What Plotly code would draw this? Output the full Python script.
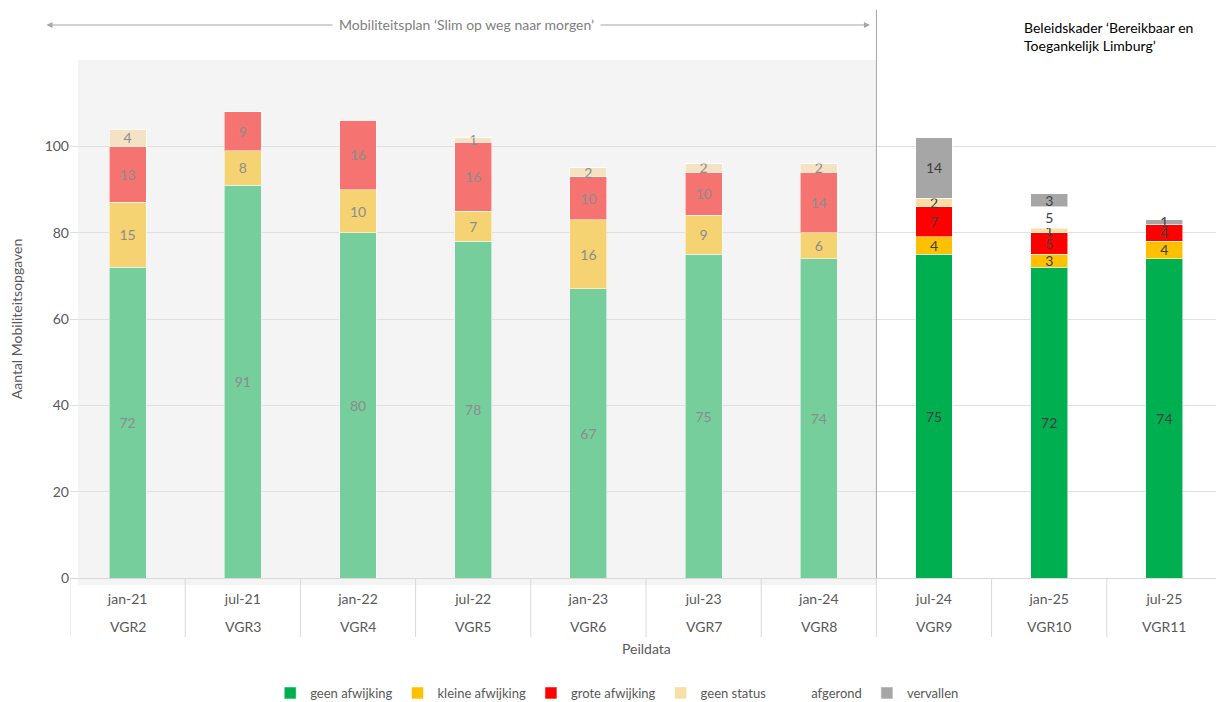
import plotly.graph_objects as go

peildata = ['jan-21', 'jul-21', 'jan-22', 'jul-22', 'jan-23', 'jul-23', 'jan-24', 'jul-24', 'jan-25', 'jul-25']
vgr = ['VGR2', 'VGR3', 'VGR4', 'VGR5', 'VGR6', 'VGR7', 'VGR8', 'VGR9', 'VGR10', 'VGR11']

geen_afwijking = [72, 91, 80, 78, 67, 75, 74, 75, 72, 74]
kleine_afwijking = [15, 8, 10, 7, 16, 9, 6, 4, 3, 4]
grote_afwijking = [13, 9, 16, 16, 10, 10, 14, 7, 5, 4]
geen_status = [4, 0, 0, 1, 2, 2, 2, 2, 1, 0]
afgerond = [0, 0, 0, 0, 0, 0, 0, 0, 5, 0]
vervallen = [0, 0, 0, 0, 0, 0, 0, 14, 3, 1]

n_old = 7  # first 7 peildata belong to the old mobility plan

series = [
    ('geen afwijking', geen_afwijking, '#76CE9C', '#00B050'),
    ('kleine afwijking', kleine_afwijking, '#F5D372', '#FFC000'),
    ('grote afwijking', grote_afwijking, '#F57472', '#FF0000'),
    ('geen status', geen_status, '#F3E3C4', '#F9DFA6'),
    ('afgerond', afgerond, '#FFFFFF', '#FFFFFF'),
    ('vervallen', vervallen, '#A6A6A6', '#A6A6A6'),
]

FONT = 'Lato'
H_PLOT = 518.0  # plot height in px (for converting pixel offsets to paper units)
fig = go.Figure()

for name, vals, col_old, col_new in series:
    line_col = 'rgba(0,0,0,0)' if name == 'afgerond' else 'rgba(255,255,255,0.55)'
    fig.add_trace(go.Bar(
        name=name, legendgroup=name, showlegend=False,
        x=vgr[:n_old], y=vals[:n_old],
        text=[str(v) if v else '' for v in vals[:n_old]],
        textposition='inside', insidetextanchor='middle', textangle=0,
        textfont=dict(family=FONT, size=14, color='#8C8C8C'),
        marker=dict(color=col_old, line=dict(color=line_col, width=1)),
        hoverinfo='skip',
    ))
    fig.add_trace(go.Bar(
        name=name, legendgroup=name, showlegend=True,
        x=vgr[n_old:], y=vals[n_old:],
        text=[str(v) if v else '' for v in vals[n_old:]],
        textposition='inside', insidetextanchor='middle', textangle=0,
        textfont=dict(family=FONT, size=14, color='#404040'),
        marker=dict(color=col_new, line=dict(color=line_col, width=1)),
        hoverinfo='skip',
    ))

# the page body adds an 8px offset; compensate with a slightly smaller figure
fig.update_layout(
    width=1216, height=694,
    margin=dict(l=62, r=2, t=52, b=124, autoexpand=False),
    barmode='stack', bargap=0.68,
    paper_bgcolor='white', plot_bgcolor='rgba(0,0,0,0)',
    font=dict(family=FONT, size=13, color='#595959'),
    uniformtext=dict(minsize=14, mode='show'),
    showlegend=True,
    legend=dict(orientation='h', x=0.475, xanchor='center', y=-115 / H_PLOT, yanchor='middle',
                traceorder='normal', font=dict(family=FONT, size=13, color='#595959'),
                itemwidth=30),
    xaxis=dict(type='category', range=[-0.5, len(vgr) - 0.5], automargin=False,
               tickvals=vgr, ticktext=peildata, ticklabelstandoff=8,
               showline=True, linecolor='#D9D9D9', linewidth=1,
               tickfont=dict(family=FONT, size=14, color='#595959'), showgrid=False,
               ticks=''),
    yaxis=dict(range=[0, 120], tickvals=[0, 20, 40, 60, 80, 100], showgrid=True, automargin=False,
               gridcolor='#E0E0E0', gridwidth=1, zeroline=False, showline=False,
               tickfont=dict(family=FONT, size=14, color='#595959'),
               title=dict(text='Aantal Mobiliteitsopgaven', standoff=20,
                          font=dict(family=FONT, size=14, color='#595959'))),
)

# second row of the category table (VGR numbers)
for name in vgr:
    fig.add_annotation(xref='x', yref='paper', x=name, y=-48 / H_PLOT, text=name, showarrow=False,
                       xanchor='center', yanchor='middle',
                       font=dict(family=FONT, size=14, color='#595959'))
# table dividers at category boundaries
for i in range(len(vgr) + 1):
    fig.add_shape(type='line', xref='x', yref='paper', x0=i - 0.5, x1=i - 0.5,
                  y0=-59 / H_PLOT, y1=0, line=dict(color='#D9D9D9', width=1))

# grey background for the old mobility plan period
fig.add_shape(type='rect', xref='paper', yref='paper', x0=0.007, x1=n_old / len(vgr),
              y0=-7 / H_PLOT, y1=1.0, fillcolor='#F4F4F4', line=dict(width=0), layer='below')
# separator line between policy frameworks
fig.add_shape(type='line', xref='paper', yref='paper', x0=n_old / len(vgr), x1=n_old / len(vgr),
              y0=0, y1=1.097, line=dict(color='#A6A6A6', width=1), layer='above')

# double-headed arrow for the old plan
fig.add_annotation(xref='paper', yref='paper', x=0.6944, y=1.0676, axref='pixel', ayref='pixel',
                   ax=-825, ay=0, text='', showarrow=True, arrowhead=2, startarrowhead=2,
                   arrowside='end+start', arrowsize=1, arrowwidth=1.2, arrowcolor='#A6A6A6')
fig.add_annotation(xref='paper', yref='paper', x=0.344, y=1.0676, xanchor='center', yanchor='middle',
                   text='Mobiliteitsplan ‘Slim op weg naar morgen’',
                   showarrow=False, bgcolor='white', borderpad=6,
                   font=dict(family=FONT, size=14, color='#808080'))
fig.add_annotation(xref='paper', yref='paper', x=0.826, y=1.046, xanchor='left', yanchor='middle', align='left',
                   text='Beleidskader ‘Bereikbaar en<br>Toegankelijk Limburg’', showarrow=False,
                   font=dict(family=FONT, size=14, color='#000000'))
# x axis title
fig.add_annotation(xref='paper', yref='paper', x=0.5, y=-70 / H_PLOT, xanchor='center', yanchor='middle',
                   text='Peildata', showarrow=False,
                   font=dict(family=FONT, size=14, color='#595959'))

fig.write_html('out.html')
